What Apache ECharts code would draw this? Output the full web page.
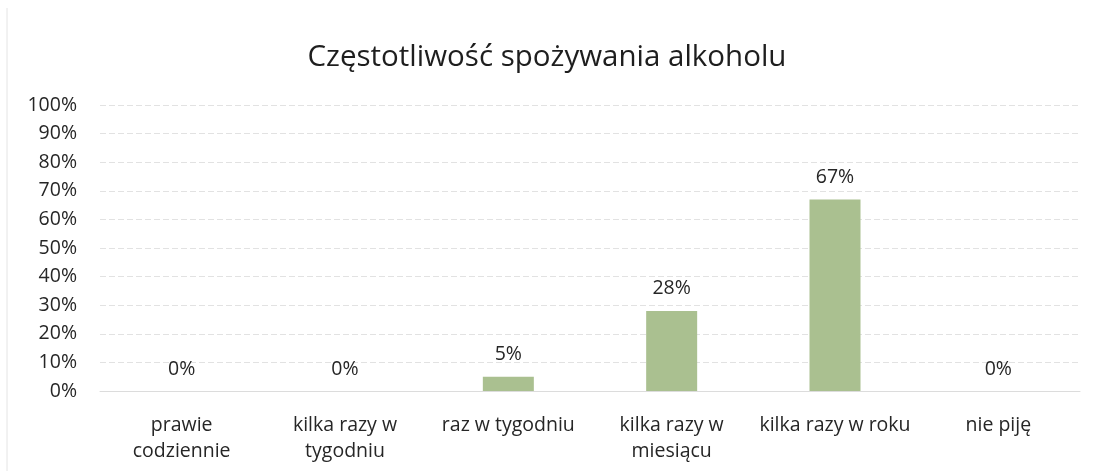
<!DOCTYPE html>
<html>
<head>
<meta charset="utf-8">
<script src="https://cdn.jsdelivr.net/npm/echarts@6/dist/echarts.min.js"></script>
<style>
html,body{margin:0;padding:0;background:#fff;}
#c{width:1094px;height:471px;}
</style>
</head>
<body>
<div id="c"></div>
<script>
const title = 'Częstotliwość spożywania alkoholu';
const categories = ['prawie\ncodziennie', 'kilka razy w\ntygodniu', 'raz w tygodniu', 'kilka razy w\nmiesiącu', 'kilka razy w roku', 'nie piję'];
const values = [0, 0, 5, 28, 67, 0];
const yTicks = [0, 10, 20, 30, 40, 50, 60, 70, 80, 90, 100];

const chart = echarts.init(document.getElementById('c'));
const font = '"Open Sans", sans-serif';
chart.setOption({
  backgroundColor: '#ffffff',
  animation: false,
  title: {
    text: title,
    left: 'center',
    top: 38,
    textStyle: { fontFamily: font, fontSize: 29.5, fontWeight: 'normal', color: '#1e1e1e' }
  },
  graphic: [{
    type: 'line', shape: { x1: 7, y1: 8, x2: 7, y2: 471 },
    style: { stroke: '#e4e4e4', lineWidth: 1 }
  }],
  grid: { left: 100, right: 14, top: 105, bottom: 80 },
  xAxis: {
    type: 'category',
    data: categories,
    axisTick: { show: false },
    axisLine: { show: true, lineStyle: { color: '#dcdcdc' } },
    axisLabel: { fontFamily: font, fontSize: 19.5, color: '#262626', margin: 21, lineHeight: 26, interval: 0 }
  },
  yAxis: {
    type: 'value',
    min: yTicks[0], max: yTicks[yTicks.length - 1], interval: 10,
    axisLine: { show: false },
    axisTick: { show: false },
    splitLine: { lineStyle: { color: '#e2e2e2', type: [6, 3] } },
    axisLabel: { fontFamily: font, fontSize: 19.5, color: '#262626', margin: 23, formatter: v => v + '%' }
  },
  series: [{
    type: 'bar',
    data: values,
    barWidth: 51,
    itemStyle: { color: '#aac090' },
    label: {
      show: true, position: 'top', distance: 12,
      fontFamily: font, fontSize: 19.5, color: '#262626',
      formatter: p => p.value + '%'
    }
  }]
});
</script>
</body>
</html>
